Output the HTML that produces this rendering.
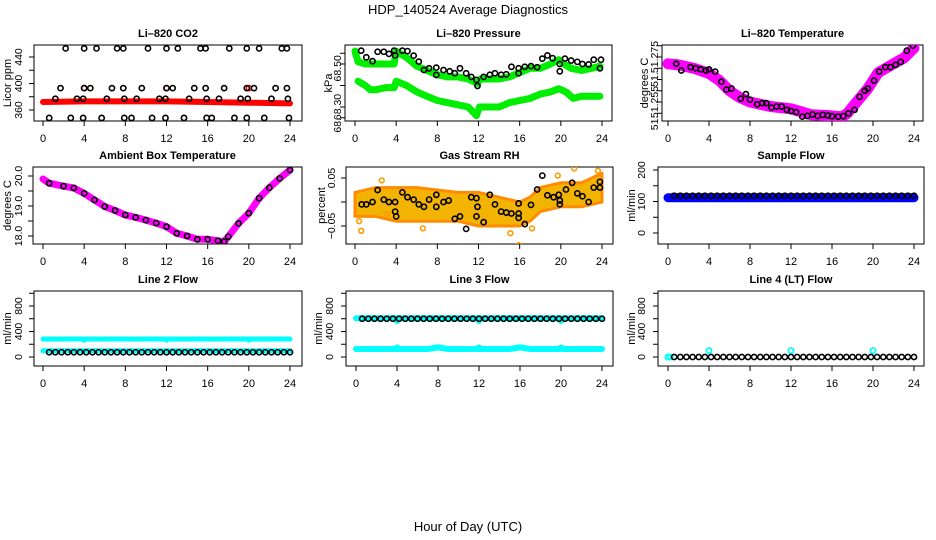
<!DOCTYPE html>
<html><head><meta charset="utf-8"><style>
html,body{margin:0;padding:0;background:#fff;}
svg{display:block;font-family:"Liberation Sans",Arial,sans-serif;}
</style></head><body>
<svg id="chart" width="936" height="540" viewBox="0 0 936 540">
<text x="468" y="14" font-size="13" text-anchor="middle">HDP_140524  Average Diagnostics</text>
<text x="468" y="531" font-size="13" text-anchor="middle">Hour of Day (UTC)</text>
</svg>
<script>
// ---------- data ----------
const xTicks = [0,4,8,12,16,20,24];
// CO2
const co2H = [2.2,4.0,5.2,7.2,7.8,10.2,12.0,13.1,15.3,15.8,18.1,19.8,21.0,23.2,23.7,
 1.7,4.0,4.6,6.7,7.8,9.6,12.0,12.6,14.7,15.8,17.6,19.8,20.5,22.6,23.7,
 1.2,3.3,3.9,6.2,7.9,9.1,11.3,11.9,14.2,15.9,17.1,19.2,19.9,22.2,23.8,
 0.6,2.7,3.9,5.7,7.9,8.6,10.6,11.9,13.7,15.9,16.4,18.6,19.8,21.5,23.9];
const co2V = [453,453,453,453,453,453,453,453,453,453,453,453,453,453,453,
 393,393,393,393,393,393,393,393,393,393,393,393,393,393,393,
 377,377,377,377,377,377,377,377,377,377,377,377,377,377,377,
 348,348,348,348,348,348,348,348,348,348,348,348,348,348,348];
const co2BandH = [0,4,8,12,16,20,24];
const co2BandV = [372,373,373,373,372,371,370];
const co2RedH = [4,12,20];
const co2RedV = [393,393,393];
// Pressure
const presH = [0.6,1.1,1.7,2.2,2.8,3.3,3.8,3.9,4.6,5.1,5.7,6.2,6.7,7.2,7.9,7.9,8.6,9.2,9.7,10.2,10.8,11.3,11.8,11.9,12.5,13.1,13.6,14.2,14.7,15.2,15.9,15.9,16.5,17.1,17.7,18.2,18.7,19.2,19.9,19.9,20.4,21.0,21.6,22.1,22.7,23.2,23.9,23.8];
const presV = [68.562,68.531,68.513,68.557,68.557,68.547,68.562,68.54,68.562,68.56,68.539,68.511,68.472,68.48,68.483,68.449,68.472,68.466,68.457,68.48,68.457,68.44,68.426,68.398,68.44,68.45,68.457,68.45,68.452,68.487,68.48,68.457,68.487,68.49,68.485,68.525,68.54,68.527,68.50,68.466,68.525,68.516,68.51,68.50,68.498,68.52,68.52,68.48];
const presHiH = [0,0.3,1,2,3,3.8,4,5,6,7,8,9,10,11,11.9,12.2,13,14,15,16,17,18,19,19.8,20.3,21,22,23,23.8];
const presHiV = [68.56,68.51,68.50,68.50,68.50,68.50,68.56,68.53,68.49,68.47,68.45,68.44,68.44,68.43,68.41,68.43,68.43,68.43,68.44,68.46,68.48,68.48,68.50,68.52,68.50,68.48,68.47,68.48,68.49];
const presLoH = [0.3,1,1.5,2,3,3.8,4,5,6,7,8,9,10,11,11.8,12.1,13,14,15,16,17,18,19,19.8,20.5,21.2,22,23,23.8];
const presLoV = [68.42,68.40,68.38,68.38,68.39,68.39,68.42,68.40,68.37,68.35,68.33,68.32,68.31,68.30,68.26,68.30,68.30,68.30,68.32,68.33,68.34,68.36,68.37,68.385,68.37,68.34,68.35,68.35,68.35];
// Li-820 temperature
const tempBandH = [0,1,2.5,4,5,6,7,8,10,12,14,15.5,17,17.5,18.5,19.5,20.5,22,23,24];
const tempBandV = [51.272,51.2715,51.270,51.2677,51.2646,51.260,51.257,51.255,51.253,51.252,51.2493,51.249,51.2484,51.250,51.2555,51.261,51.268,51.272,51.2745,51.279];
const tempPtH = [0.8,1.3,2.2,2.7,3.2,3.7,4.0,4.6,5.2,5.7,6.2,7.1,7.6,8.0,8.7,9.2,9.6,10.1,10.6,11.1,11.6,12.0,12.5,13.1,13.6,14.1,14.6,15.1,15.6,16.0,16.6,17.1,17.6,18.2,18.7,19.2,19.5,20.1,20.6,21.2,21.7,22.2,22.7,23.3,23.9];
const tempPtV = [51.272,51.269,51.2705,51.270,51.2695,51.269,51.2695,51.2685,51.264,51.2605,51.261,51.2565,51.2585,51.256,51.254,51.2545,51.2545,51.2525,51.253,51.253,51.2515,51.251,51.2505,51.2485,51.2488,51.2495,51.2488,51.2493,51.249,51.2487,51.2485,51.2487,51.250,51.2515,51.2573,51.2600,51.2610,51.2645,51.2685,51.2705,51.2705,51.2715,51.2728,51.2778,51.2800];
// Ambient box temperature
const ambH = [0,0.6,2,3,4,5,6,7,8,9,10,11,12,13,14,15,16,17,17.6,18,19,20,21,22,23,24];
const ambV = [19.9,19.76,19.66,19.6,19.42,19.2,18.98,18.85,18.7,18.62,18.53,18.43,18.31,18.09,18.0,17.89,17.89,17.84,17.81,17.98,18.42,18.76,19.26,19.61,19.92,20.2];
// RH
const rhPtH = [0.65,1.1,1.7,2.2,2.8,3.3,3.9,3.9,4.0,4.6,5.1,5.7,6.2,6.7,7.2,7.9,7.9,8.6,9.1,9.7,10.2,10.8,11.3,11.8,11.9,11.8,12.5,13.1,13.6,14.2,14.7,15.2,15.9,15.9,15.9,16.5,17.1,17.7,18.2,18.7,19.3,19.8,19.9,19.9,20.5,21.1,21.6,22.1,22.7,23.2,23.8,23.8];
const rhPtV = [-0.005,-0.005,0,0.025,0.005,0,0,-0.02,-0.03,0.02,0.01,0.005,-0.005,-0.01,0.005,0.015,-0.01,0,0.003,-0.035,-0.03,-0.056,0.01,0.008,-0.01,-0.03,-0.042,0.015,-0.005,-0.02,-0.022,-0.024,-0.003,-0.024,-0.033,-0.046,-0.006,0.026,0.055,0.014,0.01,0.015,-0.005,0.003,0.026,0.04,0.018,0.012,0,0.03,0.042,0.03];
const rhBandH = [0,2,4,6,8,10,12,14,16,17,18,20,22,24];
const rhHi = [0.02,0.03,0.03,0.03,0.025,0.02,0.02,0.01,0.0,0.01,0.03,0.04,0.04,0.06];
const rhLo = [-0.03,-0.03,-0.04,-0.04,-0.04,-0.04,-0.05,-0.05,-0.05,-0.04,-0.02,-0.01,-0.01,0.0];
const rhOutH = [0.4,0.6,2.6,3.1,6.6,15.1,15.9,17.2,19.7,21.3,23.6];
const rhOutV = [-0.04,-0.06,0.045,-0.025,-0.055,-0.065,-0.09,-0.055,0.055,0.07,0.065];
// Flows (black points every 0.6 h)
const sampleBlack = [118,118,118,118,118,118,118,118,118,118,118,118,118,118,118,118,118,118,118,118,118,118,118,118,118,118,118,118,118,118,118,118,118,118,118,118,118,118,118,118];
const line2Black = [75,75,75,75,75,75,75,75,75,75,75,75,75,75,75,75,75,75,75,75,75,75,75,75,75,75,75,75,75,75,75,75,75,75,75,75,75,75,75,75];
const line3Black = [600,600,600,600,600,600,600,600,600,600,600,600,600,600,600,600,600,600,600,600,600,600,600,600,600,600,600,600,600,600,600,600,600,600,600,600,600,600,600,600];
const line4Black = [0,0,0,0,0,0,0,0,0,0,0,0,0,0,0,0,0,0,0,0,0,0,0,0,0,0,0,0,0,0,0,0,0,0,0,0,0,0,0,0];
const bandH = [0,1,2,3,3.9,4,4.1,5,6,7,8,9,10,11,11.9,12,12.1,13,14,15,16,17,18,19,19.9,20,20.1,21,22,23,24];
const sampleBlue = [112,112,112,112,112,112,112,112,112,112,112,112,112,112,112,112,112,112,112,112,112,112,112,112,112,112,112,112,112,112,112];
const line2CyanHi = [282,282,282,282,282,262,282,282,282,282,282,282,282,282,282,262,282,282,282,282,282,282,282,282,282,262,282,282,282,282,282];
const line2CyanLo = [99,99,99,99,99,99,99,99,99,99,99,99,99,99,99,99,99,99,99,99,99,99,99,99,99,99,99,99,99,99,99];
const line3CyanHi = [607,607,607,607,607,565,607,607,607,607,607,607,607,607,607,565,607,607,607,607,607,607,607,607,607,565,607,607,607,607,607];
const line3CyanLo = [125,125,125,125,125,150,125,125,125,125,150,125,125,125,125,150,125,125,125,125,150,125,125,125,125,150,125,125,125,125,125];
const line4CyanH = [0,0.2,4,12,20];
const line4CyanV = [0,0,100,100,100];

// ---------- helpers ----------
const svg = document.getElementById('chart');
const NS = 'http://www.w3.org/2000/svg';
function mk(tag, attrs, parent){
  const e = document.createElementNS(NS, tag);
  for (const k in attrs) e.setAttribute(k, attrs[k]);
  (parent||svg).appendChild(e);
  return e;
}
function panel(cfg){
  const g = mk('g', {});
  
  
  const [l,t,r,b] = cfg.box;
  const xs = h => cfg.x0 + (cfg.x24 - cfg.x0) * h / 24;
  const ys = v => cfg.yA[1] + (v - cfg.yA[0]) * (cfg.yB[1] - cfg.yA[1]) / (cfg.yB[0] - cfg.yA[0]);
  const box = mk('rect', {x:l, y:t, width:r-l, height:b-t, fill:'none', stroke:'#000', 'stroke-width':1}, g);
  
  
  const title = mk('text', {x:(l+r)/2, y:t-8, 'font-size':11, 'font-weight':'bold', 'text-anchor':'middle'}, g);
  title.textContent = cfg.title;
  
  
  const xa = mk('g', {}, g);
  
  
  mk('line', {x1:xs(0), x2:xs(24), y1:b, y2:b, stroke:'#000'}, xa);
  xTicks.forEach(v => {
    mk('line', {x1:xs(v), x2:xs(v), y1:b, y2:b+5, stroke:'#000'}, xa);
    const tx = mk('text', {x:xs(v), y:b+21, 'font-size':11, 'text-anchor':'middle'}, xa);
    tx.textContent = v;
    
    
  });
  const ya = mk('g', {}, g);
  
  
  const ty = cfg.yticks.map(ys);
  mk('line', {x1:l, x2:l, y1:Math.min(...ty), y2:Math.max(...ty), stroke:'#000'}, ya);
  cfg.yticks.forEach(v => mk('line', {x1:l, x2:l-5, y1:ys(v), y2:ys(v), stroke:'#000'}, ya));
  cfg.ylabels.forEach(([v, s]) => {
    const tx = mk('text', {x:cfg.labX, y:ys(v), 'font-size':10.5, 'text-anchor':'middle', 'dominant-baseline':'central', transform:`rotate(-90 ${cfg.labX} ${ys(v)})`}, ya);
    tx.textContent = s;
    
    
  });
  const cy = (t+b)/2;
  const yl = mk('text', {x:cfg.ylabX, y:cy, 'font-size':11, 'text-anchor':'middle', 'dominant-baseline':'central', transform:`rotate(-90 ${cfg.ylabX} ${cy})`}, g);
  yl.textContent = cfg.ylab;
  
  
  const clip = 'clip-' + cfg.id;
  const cp = mk('clipPath', {id:clip}, g);
  mk('rect', {x:l, y:t, width:r-l, height:b-t}, cp);
  const data = mk('g', {'clip-path':`url(#${clip})`}, g);
  
  
  return {xs, ys, g:data};
}
function band(p, H, V, color, w, name){
  const d = H.map((h,i) => (i?'L':'M') + p.xs(h).toFixed(1) + ' ' + p.ys(V[i]).toFixed(1)).join(' ');
  const e = mk('path', {d, fill:'none', stroke:color, 'stroke-width':w, 'stroke-linecap':'round', 'stroke-linejoin':'round'}, p.g);
  
  
}
function pts(p, H, V, color, r, sw, name){
  H.forEach((h,i) => {
    const c = mk('circle', {cx:p.xs(h), cy:p.ys(V[i]), r, fill:'none', stroke:color, 'stroke-width':sw}, p.g);
    
    
  });
}
const flowT = sampleBlack.map((_, i) => 0.6 * (i + 1));

// ---------- panels ----------
const p1 = panel({id:'co2', title:'Li\u2013820 CO2', box:[34,45,302,121], x0:43, x24:290, yA:[440,57], yB:[360,110], yticks:[360,380,400,420,440], ylabels:[[360,'360'],[400,'400'],[440,'440']], labX:19, ylabX:8, ylab:'Licor ppm'});
band(p1, co2BandH, co2BandV, '#ff0000', 6, 'co2-red-band');
pts(p1, co2RedH, co2RedV, '#ff0000', 2.6, 1.6, 'co2-red-point');
pts(p1, co2H, co2V, '#000', 2.6, 1.6, 'co2-point');

const p2 = panel({id:'pressure', title:'Li\u2013820 Pressure', box:[345,45,612,121], x0:355, x24:602, yA:[68.5,64], yB:[68.3,107], yticks:[68.25,68.3,68.4,68.5,68.55], ylabels:[[68.48,'68.50'],[68.3,'68.30'],[68.215,'68.']], labX:338, ylabX:329, ylab:'kPa'});
band(p2, presHiH, presHiV, '#00ee00', 7, 'pressure-green-upper');
band(p2, presLoH, presLoV, '#00ee00', 7, 'pressure-green-lower');
pts(p2, presH, presV, '#000', 2.6, 1.6, 'pressure-point');

const p3 = panel({id:'li820-temp', title:'Li\u2013820 Temperature', box:[662,45,923,121], x0:668, x24:914, yA:[51.275,57], yB:[51.255,102], yticks:[51.25,51.255,51.26,51.265,51.27,51.275,51.28], ylabels:[[51.275,'51.275'],[51.265,'51.'],[51.255,'51.255'],[51.2457,'51.']], labX:655, ylabX:645, ylab:'degrees C'});
band(p3, tempBandH, tempBandV, '#ff00ff', 11, 'li820-temp-band');
pts(p3, tempPtH, tempPtV, '#000', 2.6, 1.6, 'li820-temp-point');

const p4 = panel({id:'ambient-temp', title:'Ambient Box Temperature', box:[33,167,302,244], x0:43, x24:290, yA:[20,176], yB:[18,236], yticks:[18,18.5,19,19.5,20], ylabels:[[18,'18.0'],[19,'19.0'],[20,'20.0']], labX:19, ylabX:8, ylab:'degrees C'});
band(p4, ambH, ambV, '#ff00ff', 7, 'ambient-temp-band');
pts(p4, ambH.slice(1), ambV.slice(1), '#000', 2.6, 1.6, 'ambient-temp-point');

const p5 = panel({id:'rh', title:'Gas Stream RH', box:[346,167,613,244], x0:355, x24:602, yA:[0.05,178], yB:[-0.05,226], yticks:[-0.05,0,0.05], ylabels:[[-0.05,'\u22120.05'],[0.05,'0.05']], labX:332, ylabX:322, ylab:'percent'});
{
  const top = rhBandH.map((h,i) => p5.xs(h).toFixed(1) + ',' + p5.ys(rhHi[i]).toFixed(1));
  const bot = rhBandH.map((h,i) => p5.xs(h).toFixed(1) + ',' + p5.ys(rhLo[i]).toFixed(1)).reverse();
  const poly = mk('polygon', {points:top.concat(bot).join(' '), fill:'#f2b400', stroke:'#ff8c00', 'stroke-width':3, 'stroke-linejoin':'round'}, p5.g);
  
  
}
pts(p5, rhOutH, rhOutV, '#ff9900', 2.4, 1.6, 'rh-orange-point');
pts(p5, rhPtH, rhPtV, '#000', 2.6, 1.6, 'rh-point');

const p6 = panel({id:'sample-flow', title:'Sample Flow', box:[658,167,924,244], x0:668, x24:914, yA:[200,170], yB:[0,233], yticks:[0,50,100,150,200], ylabels:[[0,'0'],[100,'100'],[200,'200']], labX:642, ylabX:632, ylab:'ml/min'});
band(p6, bandH, sampleBlue, '#0000ff', 9, 'sample-flow-blue-band');
pts(p6, flowT, sampleBlack, '#000', 2.6, 1.6, 'sample-flow-point');

const flowY = {yA:[800,306], yB:[0,357], yticks:[0,200,400,600,800,1000], ylabels:[[0,'0'],[400,'400'],[800,'800']]};
const p7 = panel(Object.assign({id:'line2-flow', title:'Line 2 Flow', box:[34,291,302,366], x0:43, x24:290, labX:19, ylabX:8, ylab:'ml/min'}, flowY));
band(p7, bandH, line2CyanHi, '#00ffff', 5, 'line2-cyan-upper');
band(p7, bandH, line2CyanLo, '#00ffff', 5, 'line2-cyan-lower');
pts(p7, flowT, line2Black, '#000', 2.6, 1.6, 'line2-point');

const p8 = panel(Object.assign({id:'line3-flow', title:'Line 3 Flow', box:[346,291,613,366], x0:356, x24:602, labX:330, ylabX:319, ylab:'ml/min'}, flowY));
band(p8, bandH, line3CyanHi, '#00ffff', 6, 'line3-cyan-upper');
band(p8, bandH, line3CyanLo, '#00ffff', 6, 'line3-cyan-lower');
pts(p8, flowT, line3Black, '#000', 2.6, 1.6, 'line3-point');

const p9 = panel(Object.assign({id:'line4-flow', title:'Line 4 (LT) Flow', box:[658,291,924,366], x0:668, x24:914, labX:642, ylabX:632, ylab:'ml/min'}, flowY));
pts(p9, line4CyanH, line4CyanV, '#00ffff', 2.6, 1.8, 'line4-cyan-point');
pts(p9, flowT, line4Black, '#000', 2.6, 1.6, 'line4-point');
</script>
</body></html>
